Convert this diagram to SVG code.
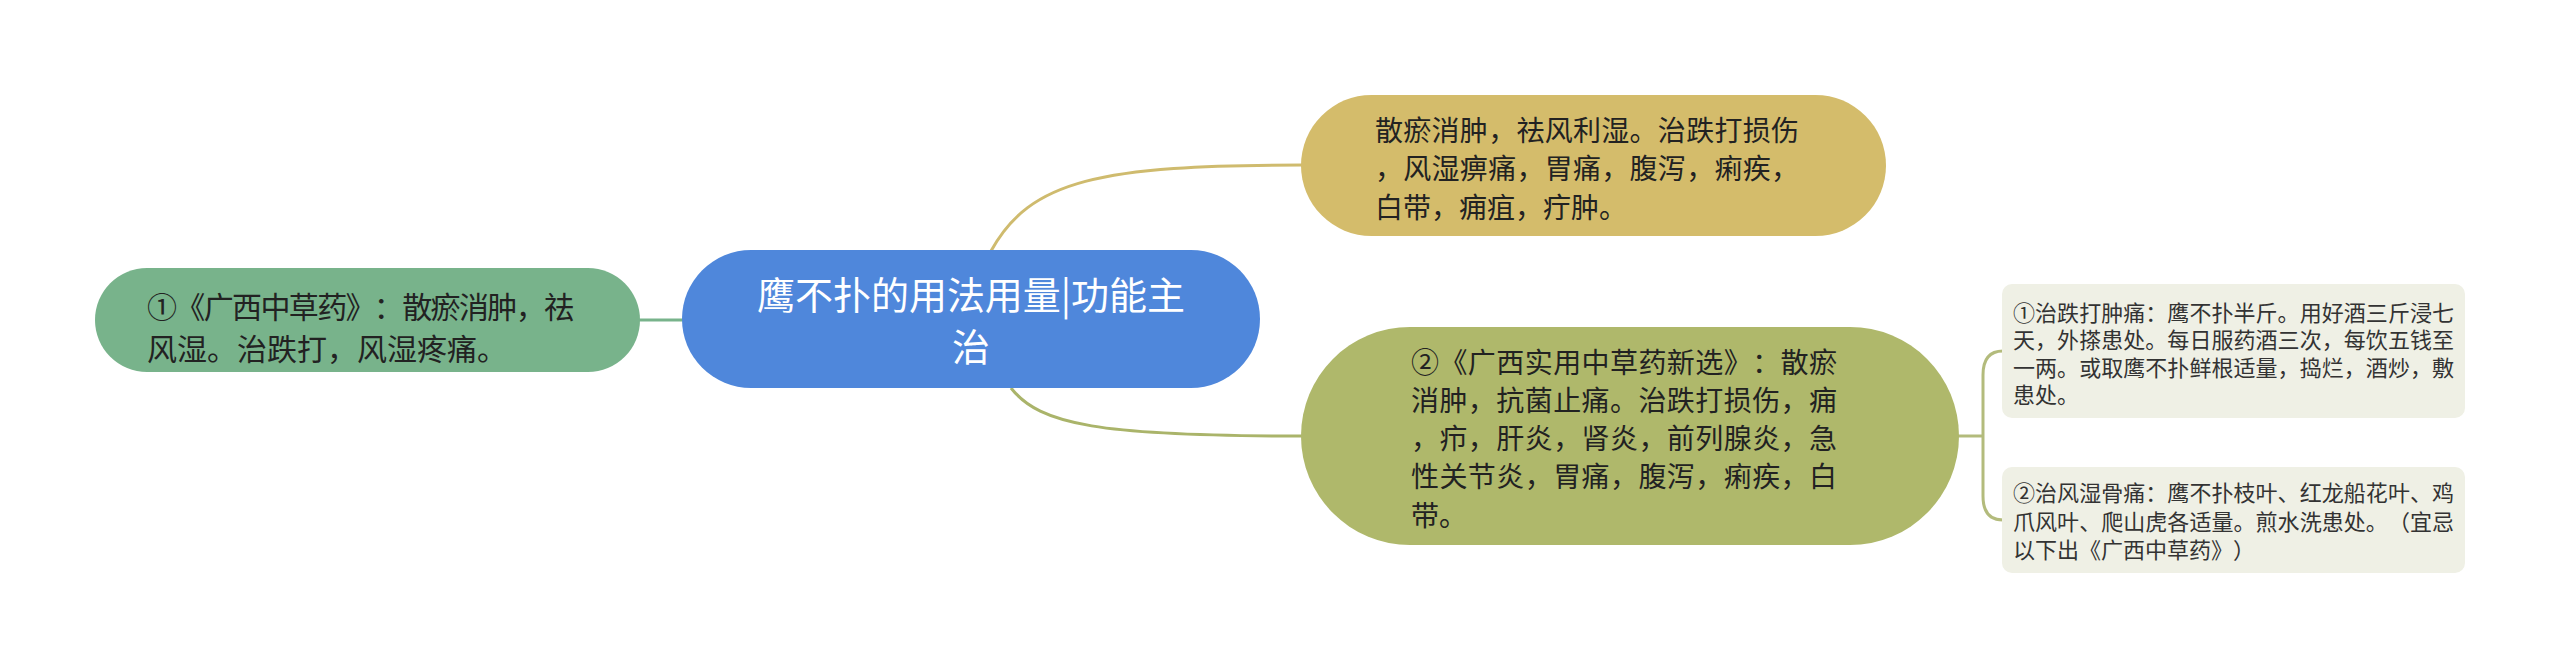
<svg xmlns="http://www.w3.org/2000/svg" width="2560" height="669" viewBox="0 0 2560 669">
<style>
text{font-family:"Noto Sans CJK SC","Liberation Sans",sans-serif;text-spacing-trim:space-all;}
.t30{font-size:30px;fill:#222}
.t28{font-size:28px;fill:#222}
.t22{font-size:22px;fill:#333}
.ct{font-size:38px;fill:#fff}
.c{fill:none;stroke-width:3}
</style>
<rect width="2560" height="669" fill="#fff"/>
<g id="connectors">
<path class="c" d="M 991 251 C 1030 180 1100 165 1302 165" stroke="#cfbb6e"/>
<path class="c" d="M 1011 388 C 1040 425 1100 436 1302 436" stroke="#aab46a"/>
<path class="c" d="M 639 320 L 683 320" stroke="#78b38b"/>
<path class="c" d="M 1958 436 L 1983 436" stroke="#b3bb7c"/>
<path class="c" d="M 2003 351 Q 1983 351 1983 375 L 1983 496 Q 1983 520 2003 520" stroke="#b3bb7c"/>
</g>
<g id="center">
<rect x="682" y="250" width="578" height="138" rx="69" fill="#4f87db"/>
<text class="ct" text-anchor="middle"><tspan x="971" y="309" textLength="428" lengthAdjust="spacing">鹰不扑的用法用量|功能主</tspan><tspan x="971" y="361">治</tspan></text>
</g>
<g id="left1">
<rect x="95" y="268" width="545" height="104" rx="52" fill="#78b38b"/>
<text class="t30"><tspan x="147" y="318" textLength="427" lengthAdjust="spacing">①《广西中草药》：散瘀消肿，祛</tspan><tspan x="147" y="360">风湿。治跌打，风湿疼痛。</tspan></text>
</g>
<g id="gold">
<rect x="1301" y="95" width="585" height="141" rx="70.5" fill="#d4bc6b"/>
<text class="t28"><tspan x="1375" y="141" textLength="424" lengthAdjust="spacing">散瘀消肿，祛风利湿。治跌打损伤</tspan><tspan x="1375" y="179" textLength="424" lengthAdjust="spacing">，风湿痹痛，胃痛，腹泻，痢疾，</tspan><tspan x="1375" y="218">白带，痈疽，疔肿。</tspan></text>
</g>
<g id="olive">
<rect x="1301" y="327" width="658" height="218" rx="109" fill="#afb86b"/>
<text class="t28"><tspan x="1411" y="373" textLength="426" lengthAdjust="spacing">②《广西实用中草药新选》：散瘀</tspan><tspan x="1411" y="411" textLength="426" lengthAdjust="spacing">消肿，抗菌止痛。治跌打损伤，痈</tspan><tspan x="1411" y="449" textLength="426" lengthAdjust="spacing">，疖，肝炎，肾炎，前列腺炎，急</tspan><tspan x="1411" y="487" textLength="426" lengthAdjust="spacing">性关节炎，胃痛，腹泻，痢疾，白</tspan><tspan x="1411" y="526">带。</tspan></text>
</g>
<g id="sub1">
<rect x="2002" y="284" width="463" height="134" rx="10" fill="#eff0e5"/>
<text class="t22"><tspan x="2013" y="321" textLength="441" lengthAdjust="spacing">①治跌打肿痛：鹰不扑半斤。用好酒三斤浸七</tspan><tspan x="2013" y="348" textLength="441" lengthAdjust="spacing">天，外搽患处。每日服药酒三次，每饮五钱至</tspan><tspan x="2013" y="376" textLength="441" lengthAdjust="spacing">一两。或取鹰不扑鲜根适量，捣烂，酒炒，敷</tspan><tspan x="2013" y="403">患处。</tspan></text>
</g>
<g id="sub2">
<rect x="2002" y="467" width="463" height="106" rx="10" fill="#eff0e5"/>
<text class="t22"><tspan x="2013" y="501" textLength="441" lengthAdjust="spacing">②治风湿骨痛：鹰不扑枝叶、红龙船花叶、鸡</tspan><tspan x="2013" y="530" textLength="441" lengthAdjust="spacing">爪风叶、爬山虎各适量。煎水洗患处。（宜忌</tspan><tspan x="2013" y="558">以下出《广西中草药》）</tspan></text>
</g>
</svg>
